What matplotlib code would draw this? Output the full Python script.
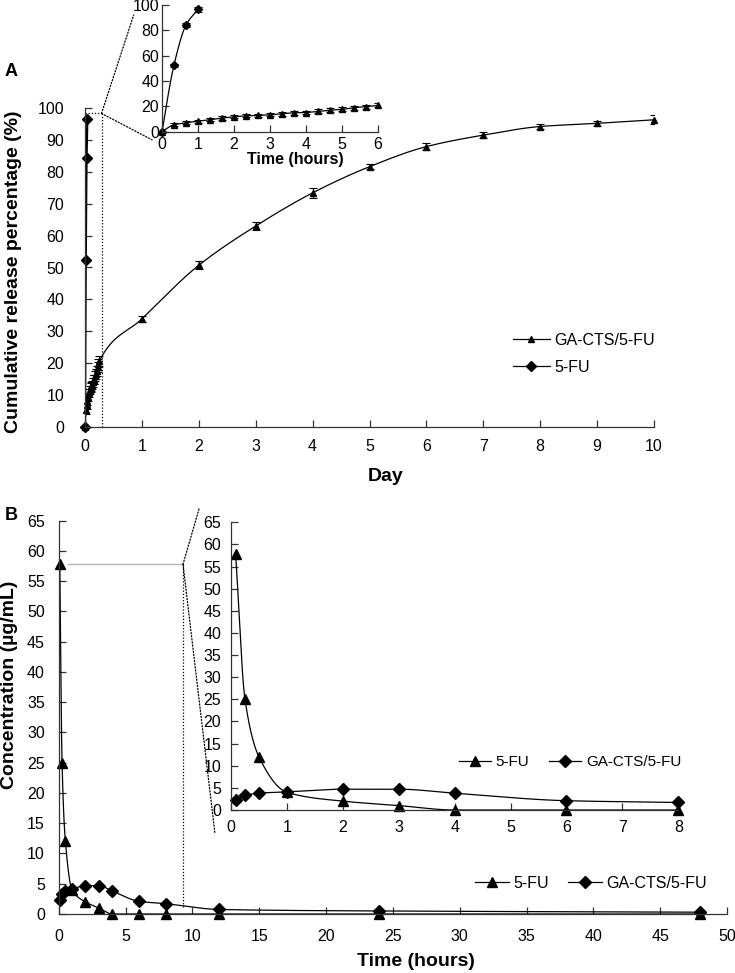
import numpy as np
import matplotlib
matplotlib.use("Agg")
import matplotlib.pyplot as plt
from matplotlib.lines import Line2D
from matplotlib.patches import ConnectionPatch

plt.rcParams['font.family'] = ['Liberation Sans', 'DejaVu Sans']

# ---------------- data ----------------
# Panel A: cumulative release (%)
ga_hours = [0, 0.33, 0.67, 1.0, 1.33, 1.67, 2.0, 2.33, 2.67, 3.0, 3.33, 3.67, 4.0, 4.33, 4.67, 5.0, 5.33, 5.67, 6.0]
ga_hour_vals = [0, 5.3, 6.9, 8.2, 9.3, 10.6, 11.6, 12.4, 12.7, 13.2, 14.0, 14.8, 15.0, 15.9, 16.7, 17.5, 18.8, 19.6, 20.6]
ga_hour_err = [0, 1.2, 1.2, 1.2, 1.3, 1.3, 1.3, 1.3, 1.3, 1.3, 1.4, 1.4, 1.4, 1.5, 1.5, 1.5, 1.5, 1.6, 1.6]
ga_days = [1, 2, 3, 4, 5, 6, 7, 8, 9, 10]
ga_day_vals = [33.9, 50.7, 63.0, 73.4, 81.6, 87.9, 91.5, 94.2, 95.2, 96.3]
ga_day_err = [1.0, 1.2, 1.2, 1.6, 0.8, 1.0, 1.0, 0.8, 0.8, 1.4]
fu_hours = [0, 0.33, 0.67, 1.0]
fu_vals = [0, 52.2, 84.3, 96.5]
fu_err = [0, 1.3, 1.8, 1.8]

# Panel B: plasma concentration (ug/mL)
b_time = [0.083, 0.25, 0.5, 1, 2, 3, 4, 6, 8, 12, 24, 48]
b_fu = [57.8, 25.0, 12.0, 4.0, 2.0, 1.0, 0.0, 0.0, 0.0, 0.0, 0.0, 0.0]
b_ga = [2.3, 3.3, 3.8, 4.1, 4.7, 4.7, 3.8, 2.1, 1.7, 0.75, 0.5, 0.3]

W, H = 735, 973


def smooth(x, y, n=40):
    """Monotone cubic (PCHIP) curve through the points."""
    x = np.asarray(x, float)
    y = np.asarray(y, float)
    h = np.diff(x)
    d = np.diff(y) / h
    m = np.zeros_like(y)
    m[0] = d[0]
    m[-1] = d[-1]
    for k in range(1, len(x) - 1):
        if d[k - 1] * d[k] <= 0:
            m[k] = 0.0
        else:
            w1 = 2 * h[k] + h[k - 1]
            w2 = h[k] + 2 * h[k - 1]
            m[k] = (w1 + w2) / (w1 / d[k - 1] + w2 / d[k])
    xs, ys = [], []
    t = np.linspace(0, 1, n)
    h00 = 2 * t**3 - 3 * t**2 + 1
    h10 = t**3 - 2 * t**2 + t
    h01 = -2 * t**3 + 3 * t**2
    h11 = t**3 - t**2
    for k in range(len(x) - 1):
        xs.append(x[k] + t * h[k])
        ys.append(h00 * y[k] + h10 * h[k] * m[k] + h01 * y[k + 1] + h11 * h[k] * m[k + 1])
    return np.concatenate(xs), np.concatenate(ys)


fig = plt.figure(figsize=(W / 100, H / 100), dpi=100)


def px_axes(left, top, right, bottom):
    return fig.add_axes([left / W, 1 - bottom / H, (right - left) / W, (bottom - top) / H])


def style(ax, fs=11.5, xpad=4, ypad=4):
    for s in ['top', 'right']:
        ax.spines[s].set_visible(False)
    for s in ['left', 'bottom']:
        ax.spines[s].set_linewidth(0.9)
        ax.spines[s].set_color('#333333')
    ax.tick_params(direction='in', length=5, width=0.9, colors='#333333', labelcolor='black', labelsize=fs)
    ax.tick_params(axis='x', pad=xpad)
    ax.tick_params(axis='y', pad=ypad)


LW = 0.9

# ---------------- Panel A main ----------------
axA = px_axes(85, 108, 654, 427)
style(axA, xpad=9, ypad=15)
ga_x_days = [h / 24 for h in ga_hours] + ga_days
ga_y_all = ga_hour_vals + ga_day_vals
ga_e_all = ga_hour_err + ga_day_err
fu_x_days = [h / 24 for h in fu_hours]
sx, sy = smooth(ga_x_days, ga_y_all)
axA.plot(sx, sy, color='k', lw=LW)
axA.errorbar(ga_x_days, ga_y_all, yerr=ga_e_all, fmt='none', ecolor='k', elinewidth=0.8, capsize=3, capthick=0.8)
axA.plot(ga_x_days, ga_y_all, ls='none', marker='^', ms=5, color='k', clip_on=False)
sx, sy = smooth(fu_x_days, fu_vals)
axA.plot(sx, sy, color='k', lw=1.6)
axA.plot(fu_x_days, fu_vals, ls='none', marker='D', ms=5, color='k', clip_on=False)
axA.set_xlim(0, 10)
axA.set_ylim(0, 100)
axA.set_xticks(range(0, 11))
axA.set_yticks(range(0, 101, 10))
axA.set_xlabel('Day', fontsize=14, fontweight='bold')
axA.xaxis.set_label_coords(0.529, -0.127)
axA.set_ylabel('Cumulative release percentage (%)', fontsize=14, fontweight='bold')
axA.yaxis.set_label_coords(-0.111, 0.486)

# zoom box lines
zx, zy = 0.29, 98.3
dots = dict(color='k', lw=0.9, ls=(0, (1, 1.5)))
axA.plot([0, zx], [zy, zy], **dots)
axA.plot([zx, zx], [0, zy], **dots)

hA = [Line2D([], [], color='k', lw=LW, marker='^', ms=5),
      Line2D([], [], color='k', lw=LW, marker='D', ms=5)]
axA.legend(hA, ['GA-CTS/5-FU', '5-FU'], loc='center left', bbox_to_anchor=(0.752, 0.229),
           frameon=False, fontsize=11.5, handlelength=2.3, handletextpad=0.3, borderpad=0,
           borderaxespad=0, labelspacing=0.75, numpoints=1)

# ---------------- Panel A inset ----------------
axAi = px_axes(162, 5, 378, 131.5)
style(axAi, xpad=4, ypad=2)
sx, sy = smooth(ga_hours, ga_hour_vals)
axAi.plot(sx, sy, color='k', lw=LW)
axAi.errorbar(ga_hours, ga_hour_vals, yerr=ga_hour_err, fmt='none', ecolor='k', elinewidth=0.8, capsize=3, capthick=0.8)
axAi.plot(ga_hours, ga_hour_vals, ls='none', marker='^', ms=4.5, color='k', clip_on=False)
sx, sy = smooth(fu_hours, fu_vals)
axAi.plot(sx, sy, color='k', lw=LW)
axAi.errorbar(fu_hours, fu_vals, yerr=fu_err, fmt='none', ecolor='k', elinewidth=0.8, capsize=3, capthick=0.8)
axAi.plot(fu_hours, fu_vals, ls='none', marker='D', ms=4.5, color='k', clip_on=False)
axAi.set_xlim(0, 6)
axAi.set_ylim(0, 100)
axAi.set_xticks(range(0, 7))
axAi.set_yticks(range(0, 101, 20))
axAi.set_xlabel('Time (hours)', fontsize=11.5, fontweight='bold')
axAi.xaxis.set_label_coords(0.616, -0.16)

for xyB in [(-0.131, 0.921), (-0.046, -0.066)]:
    con = ConnectionPatch(xyA=(zx, zy), coordsA=axA.transData, xyB=xyB, coordsB=axAi.transAxes,
                          color='k', lw=0.9, ls=(0, (1, 1.5)))
    fig.add_artist(con)

fig.text(11 / W, 1 - 71 / H, 'A', fontsize=13, fontweight='bold', ha='center', va='center')

# ---------------- Panel B main ----------------
axB = px_axes(58.7, 520.7, 727, 914)
style(axB, xpad=11, ypad=10)
sx, sy = smooth(b_time, b_fu)
axB.plot(sx, np.clip(sy, 0, None), color='k', lw=LW)
axB.plot(b_time, b_fu, ls='none', marker='^', ms=7, color='k', clip_on=False)
sx, sy = smooth(b_time, b_ga)
axB.plot(sx, sy, color='k', lw=LW)
axB.plot(b_time, b_ga, ls='none', marker='D', ms=6, color='k', clip_on=False)
axB.set_xlim(0, 50)
axB.set_ylim(0, 65)
axB.set_xticks(range(0, 51, 5))
axB.set_yticks(range(0, 66, 5))
axB.set_xlabel('Time (hours)', fontsize=14, fontweight='bold')
axB.xaxis.set_label_coords(0.535, -0.099)
axB.set_ylabel('Concentration (µg/mL)', fontsize=14, fontweight='bold')
axB.yaxis.set_label_coords(-0.061, 0.583)

bx, by = 9.3, b_fu[0]
axB.plot([0.7, bx], [by, by], color='#b5b5b5', lw=1.0)
axB.plot([bx, bx], [1.2, by], **dots)

hB = [Line2D([], [], color='k', lw=LW, marker='^', ms=7),
      Line2D([], [], color='k', lw=LW, marker='D', ms=6)]
axB.legend(hB, ['5-FU', 'GA-CTS/5-FU'], loc='center left',
           bbox_to_anchor=((475 - 58.7) / 668.3, (914 - 883) / 393.3),
           frameon=False, fontsize=11.5, handlelength=2.1, handletextpad=0.3, borderpad=0,
           borderaxespad=0, ncol=2, columnspacing=1.2, numpoints=1)

# ---------------- Panel B inset ----------------
axBi = px_axes(231, 522.3, 678.3, 810)
style(axBi, xpad=7, ypad=7)
n_in = 9
sx, sy = smooth(b_time[:n_in], b_fu[:n_in])
axBi.plot(sx, np.clip(sy, 0, None), color='k', lw=LW)
axBi.plot(b_time[:n_in], b_fu[:n_in], ls='none', marker='^', ms=7, color='k', clip_on=False)
sx, sy = smooth(b_time[:n_in], b_ga[:n_in])
axBi.plot(sx, sy, color='k', lw=LW)
axBi.plot(b_time[:n_in], b_ga[:n_in], ls='none', marker='D', ms=6, color='k', clip_on=False)
axBi.set_xlim(0, 8)
axBi.set_ylim(0, 65)
axBi.set_xticks(range(0, 9))
axBi.set_yticks(range(0, 66, 5))
axBi.legend(hB, ['5-FU', 'GA-CTS/5-FU'], loc='center left',
            bbox_to_anchor=((459 - 231) / 447.3, (810 - 762) / 287.7),
            frameon=False, fontsize=11, handlelength=2.1, handletextpad=0.3, borderpad=0,
            borderaxespad=0, ncol=2, columnspacing=1.3, numpoints=1)

for xyB in [(-0.071, 1.049), (-0.036, -0.08)]:
    con = ConnectionPatch(xyA=(bx, by), coordsA=axB.transData, xyB=xyB, coordsB=axBi.transAxes,
                          color='k', lw=0.9, ls=(0, (1, 1.5)))
    fig.add_artist(con)

fig.text(11 / W, 1 - 515 / H, 'B', fontsize=13, fontweight='bold', ha='center', va='center')

fig.savefig('out.png', dpi=100)
